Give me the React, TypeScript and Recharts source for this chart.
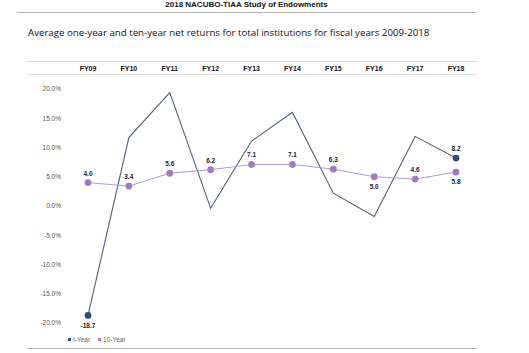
import { LineChart, Line, XAxis, YAxis, Legend } from "recharts";

// Fiscal years along the top
const years = ["FY09", "FY10", "FY11", "FY12", "FY13", "FY14", "FY15", "FY16", "FY17", "FY18"];
// Average one-year net return (%)
const oneYear = [-18.7, 11.7, 19.4, -0.4, 11.1, 16.0, 2.2, -1.8, 11.9, 8.2];
// Average ten-year net return (%)
const tenYear = [4.0, 3.4, 5.6, 6.2, 7.1, 7.1, 6.3, 5.0, 4.6, 5.8];
const yTicks = [20, 15, 10, 5, 0, -5, -10, -15, -20];

const ONE_COLOR = "#4f6173";
const ONE_DOT = "#2d4f7c";
const TEN_COLOR = "#b59ac8";
const TEN_DOT = "#a07cbc";

const data = years.map((y, i) => ({ year: y, one: oneYear[i], ten: tenYear[i] }));

const font = "'Liberation Sans', Arial, sans-serif";

// which 10-year labels sit below the point
const tenBelow = [7, 9];

function TenLabel(props: any) {
  const { x, y, value, index } = props;
  const below = tenBelow.includes(index);
  return (
    <text
      x={x}
      y={below ? y + 12 : y - 7}
      textAnchor="middle"
      fontSize={6.5}
      fontWeight="bold"
      fill="#222"
      fontFamily={font}
    >
      {Number(value).toFixed(1)}
    </text>
  );
}

function OneLabel(props: any) {
  const { x, y, value, index } = props;
  if (index !== 0 && index !== years.length - 1) return null;
  const below = index === 0;
  return (
    <text
      x={x}
      y={below ? y + 13 : y - 7}
      textAnchor="middle"
      fontSize={6.5}
      fontWeight="bold"
      fill="#222"
      fontFamily={font}
    >
      {Number(value).toFixed(1)}
    </text>
  );
}

function OneDot(props: any) {
  const { cx, cy, index } = props;
  if (index !== 0 && index !== years.length - 1) return <g key={`d-${index}`} />;
  return <circle key={`d-${index}`} cx={cx} cy={cy} r={3.4} fill={ONE_DOT} />;
}

function LegendBox() {
  const items = [
    { name: "I-Year", color: ONE_DOT },
    { name: "10-Year", color: TEN_DOT },
  ];
  return (
    <div style={{ display: "flex", gap: 8, fontFamily: font, fontSize: 6.5, color: "#666" }}>
      {items.map((it) => (
        <div key={it.name} style={{ display: "flex", alignItems: "center", gap: 2 }}>
          <span style={{ width: 3, height: 3, background: it.color, display: "inline-block" }} />
          {it.name}
        </div>
      ))}
    </div>
  );
}

const rule = (top: number, left: number, width: number, color = "#cfcfcf") => (
  <div style={{ position: "absolute", top, left, width, height: 1, background: color, zIndex: 2 }} />
);

export default function App() {
  return (
    <div style={{ position: "fixed", top: 0, left: 0, width: 529, height: 353, background: "#fff" }}>
      <div style={{ position: "absolute", top: 0, left: 0, zIndex: 0 }}>
        <LineChart width={529} height={353} data={data} margin={{ top: 59, right: 53, bottom: 30, left: 28 }}>
          <XAxis
            dataKey="year"
            orientation="top"
            scale="point"
            padding={{ left: 20, right: 20 }}
            height={30}
            axisLine={false}
            tickLine={false}
            tickSize={6}
            tickMargin={12}
            interval={0}
            tick={{ fontSize: 7, fontWeight: "bold", fill: "#111", fontFamily: font }}
          />
          <YAxis
            domain={[-20, 20]}
            ticks={yTicks}
            width={40}
            axisLine={false}
            tickLine={false}
            tickSize={6}
            tickMargin={1}
            tick={{ fontSize: 6.5, fill: "#555", fontFamily: font }}
            tickFormatter={(v) => `${Number(v).toFixed(1)}%`}
          />
          <Legend
            layout="horizontal"
            verticalAlign="middle"
            align="center"
            content={() => <LegendBox />}
            wrapperStyle={{ top: 336, left: 68, width: 120, height: 10 }}
          />
          <Line
            type="linear"
            dataKey="one"
            name="I-Year"
            stroke={ONE_COLOR}
            strokeWidth={1.1}
            dot={OneDot}
            activeDot={false}
            label={OneLabel}
            isAnimationActive={false}
          />
          <Line
            type="linear"
            dataKey="ten"
            name="10-Year"
            stroke={TEN_COLOR}
            strokeWidth={1}
            dot={{ r: 3.4, fill: TEN_DOT, stroke: "none" }}
            activeDot={false}
            label={TenLabel}
            isAnimationActive={false}
          />
        </LineChart>
      </div>
      <div
        style={{
          position: "absolute",
          top: 0,
          left: 17,
          width: 459,
          zIndex: 2,
          textAlign: "center",
          fontFamily: font,
          fontWeight: "bold",
          fontSize: 8,
          lineHeight: "9px",
          color: "#111",
        }}
      >
        2018 NACUBO-TIAA Study of Endowments
      </div>
      {rule(12, 17, 459, "#b5b5b5")}
      <div
        style={{
          position: "absolute",
          top: 26,
          left: 28,
          zIndex: 2,
          fontFamily: "'Open Sans', 'Noto Sans', sans-serif",
          fontSize: 9.7,
          lineHeight: "14px",
          color: "#111",
          whiteSpace: "nowrap",
        }}
      >
        Average one-year and ten-year net returns for total institutions for fiscal years 2009-2018
      </div>
      {rule(61, 27, 450, "#d8d8d8")}
      {rule(74, 27, 450, "#e0e0e0")}
      {rule(348, 27, 450, "#bdbdbd")}
    </div>
  );
}
